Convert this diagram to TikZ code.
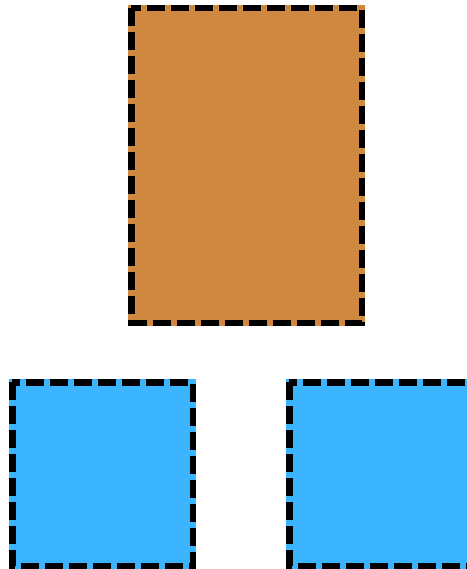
\documentclass[tikz,border=0pt]{standalone}
\definecolor{boxorange}{RGB}{208,136,64}
\definecolor{boxblue}{RGB}{58,180,255}
\tikzset{
  px/.style={x=1pt,y=-1pt},
  dashborder/.style={draw=black,line width=6.5pt,dash pattern=on 18pt off 6pt},
}
\begin{document}
\begin{tikzpicture}[px]
\useasboundingbox (0,0) rectangle (466,569);
% orange box
\fill[boxorange] (128,5) rectangle (365,326);
\draw[dashborder] (131.25,8.25) rectangle (361.75,322.75);
% left blue box
\fill[boxblue] (9,379) rectangle (196,569);
\draw[dashborder] (12.25,382.25) rectangle (192.75,565.75);
% right blue box
\fill[boxblue] (286,379) rectangle (473,569);
\draw[dashborder] (289.25,382.25) rectangle (469.75,565.75);
\end{tikzpicture}
\end{document}
